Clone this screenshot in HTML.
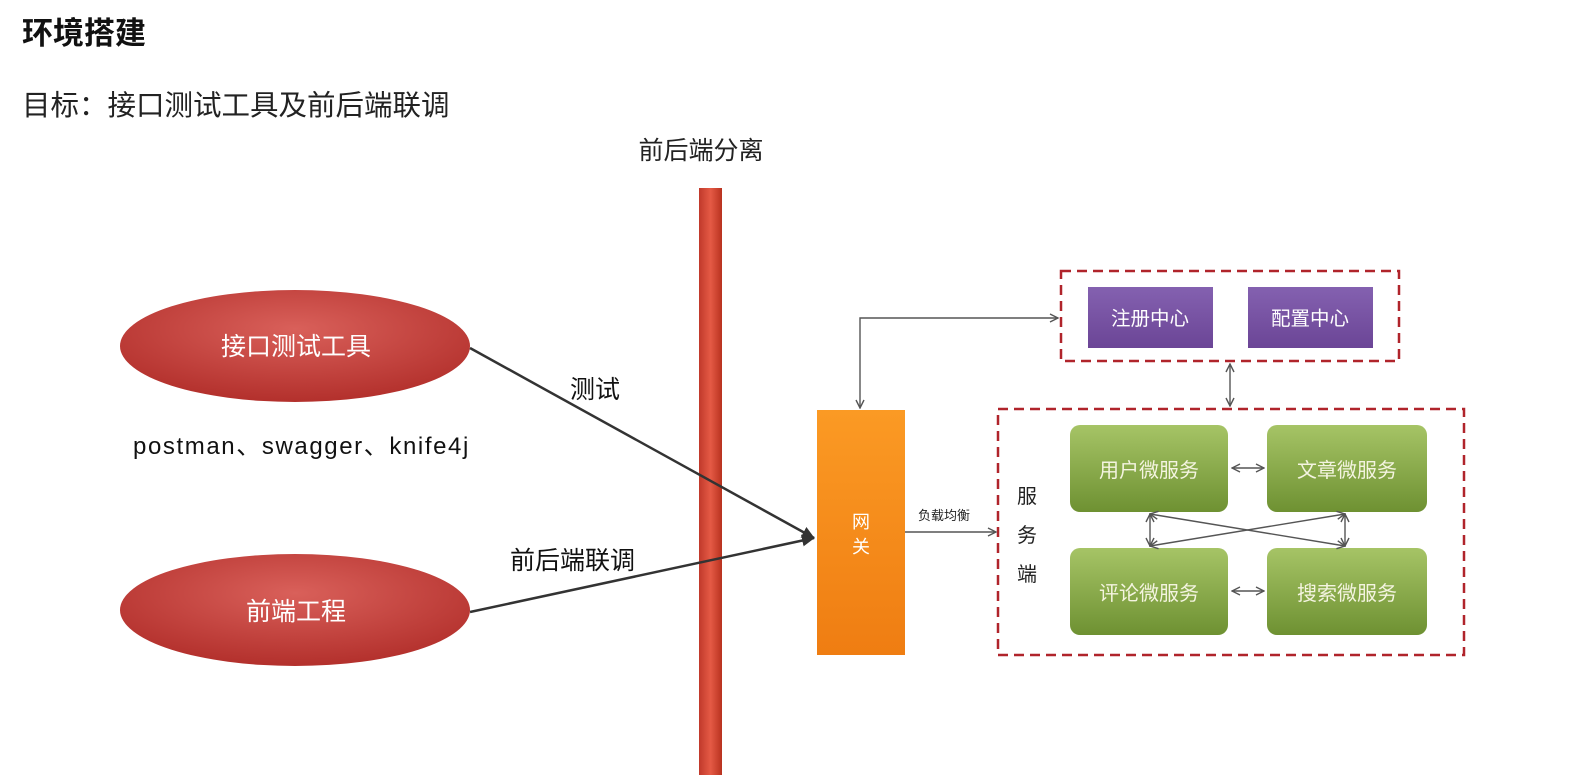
<!DOCTYPE html>
<html><head><meta charset="utf-8"><style>
body{margin:0;background:#fff;width:1585px;height:775px;overflow:hidden}
svg{display:block}
text{font-family:"Liberation Sans","Noto Sans CJK SC",sans-serif}
</style></head><body>
<svg width="1585" height="775" viewBox="0 0 1585 775" xmlns="http://www.w3.org/2000/svg">
<defs>
<marker id="a" markerWidth="10" markerHeight="10" refX="9" refY="5" orient="auto-start-reverse" markerUnits="userSpaceOnUse"><path d="M1,1 L9,5 L1,9" fill="none" stroke="#555" stroke-width="1.4"/></marker>
<marker id="b" markerWidth="14" markerHeight="14" refX="12" refY="7" orient="auto" markerUnits="userSpaceOnUse"><path d="M0,1 L13,7 L0,13 Z" fill="#333"/></marker>
<radialGradient id="ell" cx="50%" cy="35%" r="65%"><stop offset="0" stop-color="#d9605a"/><stop offset="1" stop-color="#b3302c"/></radialGradient>
<linearGradient id="org" x1="0" y1="0" x2="0" y2="1"><stop offset="0" stop-color="#fb9a24"/><stop offset="1" stop-color="#ef7d12"/></linearGradient>
<linearGradient id="grn" x1="0" y1="0" x2="0" y2="1"><stop offset="0" stop-color="#a6c466"/><stop offset="1" stop-color="#6e9132"/></linearGradient>
<linearGradient id="pur" x1="0" y1="0" x2="0" y2="1"><stop offset="0" stop-color="#8461b0"/><stop offset="1" stop-color="#6b4596"/></linearGradient>
<linearGradient id="bar" x1="0" y1="0" x2="1" y2="0"><stop offset="0" stop-color="#c0392b"/><stop offset="0.5" stop-color="#e55a45"/><stop offset="1" stop-color="#b8321f"/></linearGradient>
</defs>
<text x="22" y="44" font-size="31" font-weight="bold" fill="#111">环境搭建</text>
<text x="22" y="115" font-size="28.5" fill="#222">目标：接口测试工具及前后端联调</text>
<text x="701" y="159" font-size="25" fill="#222" text-anchor="middle">前后端分离</text>
<rect x="699" y="188" width="23" height="590" fill="url(#bar)"/>
<ellipse cx="295" cy="346" rx="175" ry="56" fill="url(#ell)"/>
<text x="296" y="355" font-size="25" fill="#fff" text-anchor="middle">接口测试工具</text>
<ellipse cx="295" cy="610" rx="175" ry="56" fill="url(#ell)"/>
<text x="296" y="620" font-size="25" fill="#fff" text-anchor="middle">前端工程</text>
<text x="133" y="454" font-size="24" letter-spacing="1.6" fill="#111">postman、swagger、knife4j</text>
<line x1="470" y1="348" x2="814" y2="538" stroke="#333" stroke-width="2.5" marker-end="url(#b)"/>
<line x1="470" y1="612" x2="814" y2="538" stroke="#333" stroke-width="2.5" marker-end="url(#b)"/>
<text x="570" y="398" font-size="25" fill="#111">测试</text>
<text x="510" y="569" font-size="25" fill="#111">前后端联调</text>
<rect x="817" y="410" width="88" height="245" fill="url(#org)"/>
<text x="861" y="528" font-size="18" fill="#fff" text-anchor="middle">网</text>
<text x="861" y="553" font-size="18" fill="#fff" text-anchor="middle">关</text>
<polyline points="860,408 860,318 1058,318" fill="none" stroke="#555" stroke-width="1.4" marker-start="url(#a)" marker-end="url(#a)"/>
<rect x="1061" y="271" width="338" height="90" fill="none" stroke="#b0242b" stroke-width="2.5" stroke-dasharray="10,6"/>
<rect x="1088" y="287" width="125" height="61" fill="url(#pur)"/>
<text x="1150" y="325" font-size="19.5" fill="#fff" text-anchor="middle">注册中心</text>
<rect x="1248" y="287" width="125" height="61" fill="url(#pur)"/>
<text x="1310" y="325" font-size="19.5" fill="#fff" text-anchor="middle">配置中心</text>
<line x1="1230" y1="364" x2="1230" y2="406" stroke="#555" stroke-width="1.4" marker-start="url(#a)" marker-end="url(#a)"/>
<rect x="998" y="409" width="466" height="246" fill="none" stroke="#b0242b" stroke-width="2.5" stroke-dasharray="10,6"/>
<text x="918" y="520" font-size="13" fill="#222">负载均衡</text>
<line x1="905" y1="532" x2="996" y2="532" stroke="#555" stroke-width="1.4" marker-end="url(#a)"/>
<text x="1027" y="503" font-size="20" fill="#222" text-anchor="middle">服</text>
<text x="1027" y="542" font-size="20" fill="#222" text-anchor="middle">务</text>
<text x="1027" y="581" font-size="20" fill="#222" text-anchor="middle">端</text>
<rect x="1070" y="425" width="158" height="87" rx="10" fill="url(#grn)"/>
<text x="1149" y="477" font-size="20" fill="#f4f4e0" text-anchor="middle">用户微服务</text>
<rect x="1267" y="425" width="160" height="87" rx="10" fill="url(#grn)"/>
<text x="1347" y="477" font-size="20" fill="#f4f4e0" text-anchor="middle">文章微服务</text>
<rect x="1070" y="548" width="158" height="87" rx="10" fill="url(#grn)"/>
<text x="1149" y="600" font-size="20" fill="#f4f4e0" text-anchor="middle">评论微服务</text>
<rect x="1267" y="548" width="160" height="87" rx="10" fill="url(#grn)"/>
<text x="1347" y="600" font-size="20" fill="#f4f4e0" text-anchor="middle">搜索微服务</text>
<line x1="1232" y1="468" x2="1264" y2="468" stroke="#555" stroke-width="1.4" marker-start="url(#a)" marker-end="url(#a)"/>
<line x1="1232" y1="591" x2="1264" y2="591" stroke="#555" stroke-width="1.4" marker-start="url(#a)" marker-end="url(#a)"/>
<line x1="1150" y1="514" x2="1150" y2="546" stroke="#555" stroke-width="1.4" marker-start="url(#a)" marker-end="url(#a)"/>
<line x1="1345" y1="514" x2="1345" y2="546" stroke="#555" stroke-width="1.4" marker-start="url(#a)" marker-end="url(#a)"/>
<line x1="1150" y1="514" x2="1345" y2="546" stroke="#555" stroke-width="1.4" marker-start="url(#a)" marker-end="url(#a)"/>
<line x1="1345" y1="514" x2="1150" y2="546" stroke="#555" stroke-width="1.4" marker-start="url(#a)" marker-end="url(#a)"/>
</svg>
</body></html>
